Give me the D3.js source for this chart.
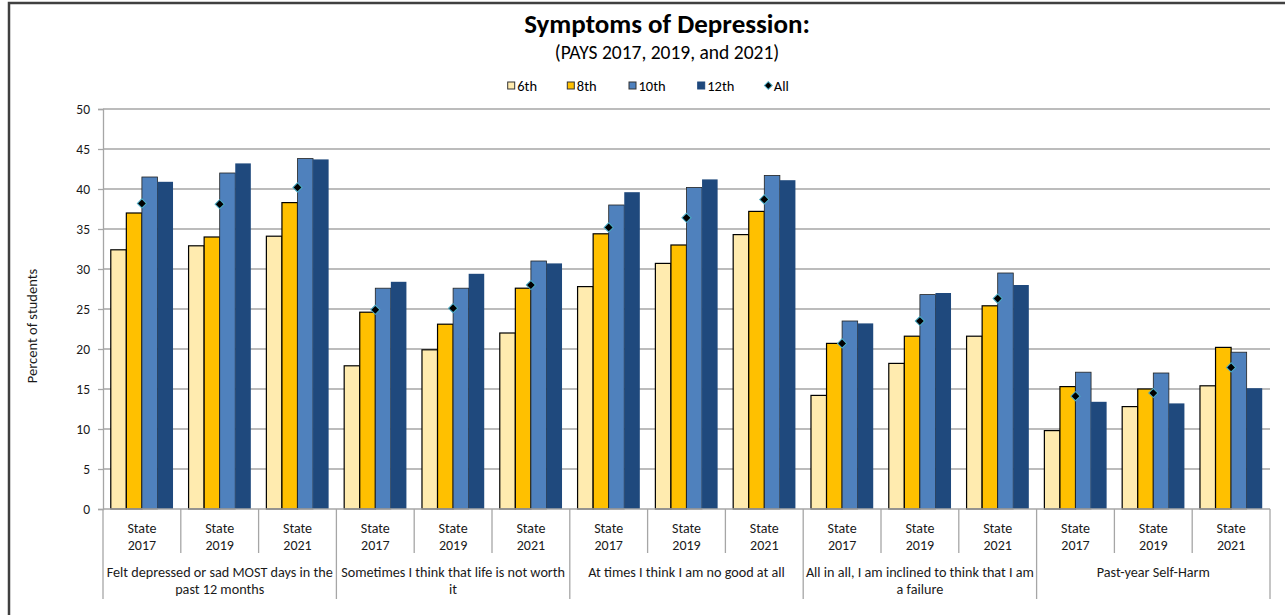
<!DOCTYPE html>
<html>
<head>
<meta charset="utf-8">
<script src="https://cdn.jsdelivr.net/npm/d3@7"></script>
<style>
  html, body { margin: 0; padding: 0; background: #fff; }
  svg { display: block; font-family: Carlito, Calibri, Lato, "Open Sans", sans-serif; }
</style>
</head>
<body>
<svg id="chart" width="1285" height="615"></svg>
<script>
// ---- data ----
const categories = ["State 2017","State 2019","State 2021","State 2017","State 2019","State 2021","State 2017","State 2019","State 2021","State 2017","State 2019","State 2021","State 2017","State 2019","State 2021"];
const groupLabels = [
  ["Felt depressed or sad MOST days in the", "past 12 months"],
  ["Sometimes I think that life is not worth", "it"],
  ["At times I think I am no good at all"],
  ["All in all, I am inclined to think that I am", "a failure"],
  ["Past-year Self-Harm"]
];
const seriesNames = ["6th", "8th", "10th", "12th"];
const sixth   = [32.4, 32.9, 34.1, 17.9, 19.9, 22.0, 27.8, 30.7, 34.3, 14.2, 18.2, 21.6, 9.8, 12.8, 15.4];
const eighth  = [37.0, 34.0, 38.3, 24.6, 23.1, 27.6, 34.4, 33.0, 37.2, 20.7, 21.6, 25.4, 15.3, 15.0, 20.2];
const tenth   = [41.5, 42.0, 43.8, 27.6, 27.6, 31.0, 38.0, 40.2, 41.7, 23.5, 26.8, 29.5, 17.1, 17.0, 19.6];
const twelfth = [40.9, 43.2, 43.7, 28.4, 29.4, 30.7, 39.6, 41.2, 41.1, 23.2, 27.0, 28.0, 13.4, 13.2, 15.1];
const allGrades = [38.2, 38.1, 40.2, 24.9, 25.1, 28.0, 35.2, 36.4, 38.7, 20.7, 23.5, 26.3, 14.1, 14.5, 17.7];
const yTicks = [0, 5, 10, 15, 20, 25, 30, 35, 40, 45, 50];

// ---- styles ----
const fills   = ["#FFEBAF", "#FFC000", "#4F81BD", "#1F497D"];
const strokes = ["#000", "#000", "#222", "none"];
const gridColor = "#A6A6A6";
const textColor = "#1a1a1a";

const svg = d3.select("#chart");
svg.append("rect").attr("width", 1285).attr("height", 615).attr("fill", "#fff");

// frame
svg.append("path").attr("d", "M9,620 L9,3 L1290,3")
  .attr("fill", "none").attr("stroke", "#404040").attr("stroke-width", 2.5);

const pLeft = 103, pRight = 1270, pTop = 109, pBottom = 509;
const idx = d3.range(categories.length);
const x0 = d3.scaleBand().domain(idx).range([pLeft, pRight]).padding(0);
const bw = x0.bandwidth();
const x1 = d3.scaleBand().domain(d3.range(seriesNames.length)).range([bw * 0.1, bw * 0.9]).padding(0);
const y = d3.scaleLinear().domain([0, 50]).range([pBottom, pTop]);

// gridlines
svg.append("g").selectAll("line").data(yTicks.filter(t => t > 0)).join("line")
  .attr("x1", pLeft).attr("x2", pRight)
  .attr("y1", d => y(d)).attr("y2", d => y(d))
  .attr("stroke", gridColor).attr("stroke-width", 1.3);

// y axis
const yAxis = d3.axisLeft(y).tickValues(yTicks).tickSize(5).tickPadding(8).tickFormat(d3.format("d"));
const yg = svg.append("g").attr("transform", `translate(${pLeft},0)`).call(yAxis);
yg.select(".domain").attr("stroke", gridColor).attr("stroke-width", 1.3);
yg.selectAll(".tick line").attr("stroke", gridColor).attr("stroke-width", 1.3);
yg.selectAll(".tick text").attr("font-size", 13.5).attr("fill", textColor)
  .attr("font-family", "Carlito, Calibri, Lato, sans-serif");

// y title
svg.append("text").attr("transform", "translate(32,326) rotate(-90)")
  .attr("text-anchor", "middle").attr("dominant-baseline", "central")
  .attr("font-size", 14.5).attr("fill", textColor).text("Percent of students");

// bars
const seriesData = [sixth, eighth, tenth, twelfth];
seriesData.forEach((vals, s) => {
  svg.append("g").selectAll("rect").data(vals).join("rect")
    .attr("x", (d, i) => x0(i) + x1(s))
    .attr("y", d => y(d))
    .attr("width", x1.bandwidth())
    .attr("height", d => y(0) - y(d))
    .attr("fill", fills[s])
    .attr("stroke", strokes[s])
    .attr("stroke-width", s < 2 ? 1.2 : 0.8);
});

// x axis line
svg.append("line").attr("x1", pLeft).attr("x2", pRight).attr("y1", pBottom).attr("y2", pBottom)
  .attr("stroke", gridColor).attr("stroke-width", 1.3);

// category ticks
const tickG = svg.append("g");
d3.range(categories.length + 1).forEach(i => {
  const xx = i < categories.length ? x0(i) : pRight;
  const isGroup = i % 3 === 0;
  tickG.append("line").attr("x1", xx).attr("x2", xx)
    .attr("y1", pBottom).attr("y2", isGroup ? 599 : 553)
    .attr("stroke", gridColor).attr("stroke-width", 1.3);
});

// category labels
const catG = svg.append("g").attr("font-size", 14).attr("fill", textColor).attr("text-anchor", "middle");
categories.forEach((c, i) => {
  const parts = c.split(" ");
  const t = catG.append("text");
  t.append("tspan").attr("x", x0(i) + bw / 2).attr("y", 532.6).text(parts[0]);
  t.append("tspan").attr("x", x0(i) + bw / 2).attr("y", 550).text(parts[1]);
});

// group labels
const grpG = svg.append("g").attr("font-size", 14.2).attr("fill", textColor).attr("text-anchor", "middle");
groupLabels.forEach((lines, g) => {
  const cx = (x0(g * 3) + x0(g * 3 + 2) + bw) / 2;
  lines.forEach((ln, k) => {
    grpG.append("text").attr("x", cx).attr("y", 576.6 + k * 17.6).text(ln);
  });
});

// "All" markers (diamond = rotated square)
const diamond = d3.symbol().type(d3.symbolSquare).size(42);
svg.append("g").selectAll("path").data(allGrades).join("path")
  .attr("d", diamond)
  .attr("transform", (d, i) => `translate(${x0(i) + bw / 2},${y(d)}) rotate(45)`)
  .attr("fill", "#000").attr("stroke", "#4BACC6").attr("stroke-width", 1);

// title
svg.append("text").attr("x", 667).attr("y", 33).attr("text-anchor", "middle")
  .attr("font-size", 27).attr("font-weight", "bold").attr("fill", "#000").text("Symptoms of Depression:");
svg.append("text").attr("x", 667).attr("y", 58.5).attr("text-anchor", "middle")
  .attr("font-size", 19.5).attr("fill", "#000").text("(PAYS 2017, 2019, and 2021)");

// legend
const legNames = seriesNames.concat(["All"]);
const legX = [507.7, 567.3, 629, 697.7, 764.3];
const legG = svg.append("g").attr("font-size", 14.5).attr("fill", "#000");
legNames.forEach((n, i) => {
  const lx = legX[i];
  if (i < 4) {
    legG.append("rect").attr("x", lx).attr("y", 82).attr("width", 7).attr("height", 7)
      .attr("fill", fills[i]).attr("stroke", i === 3 ? fills[3] : "#333").attr("stroke-width", 1);
  } else {
    legG.append("path").attr("d", d3.symbol().type(d3.symbolSquare).size(30))
      .attr("transform", `translate(${lx + 4},85.5) rotate(45)`)
      .attr("fill", "#000").attr("stroke", "#4BACC6").attr("stroke-width", 1);
  }
  legG.append("text").attr("x", lx + 9.5).attr("y", 90.5).text(n);
});
</script>
</body>
</html>
